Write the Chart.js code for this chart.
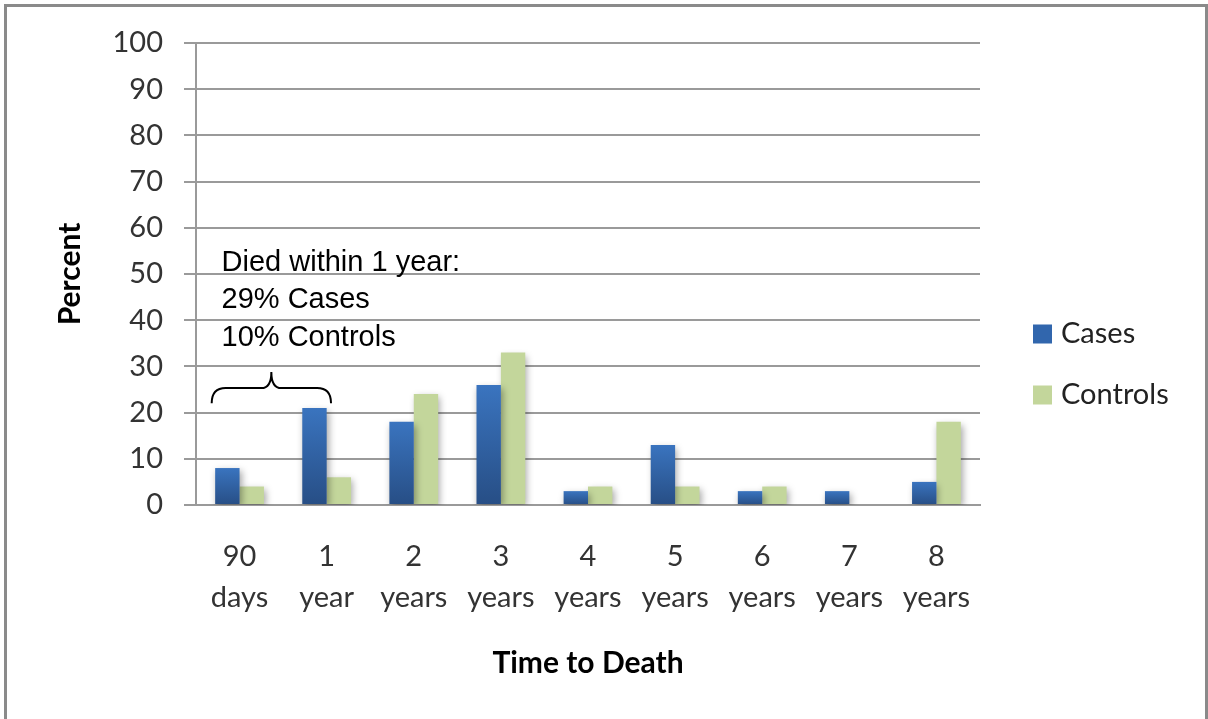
<!DOCTYPE html>
<html>
<head>
<meta charset="utf-8">
<script src="https://cdn.jsdelivr.net/npm/chart.js@4.4.1/dist/chart.umd.min.js"></script>
<style>
  html, body { margin: 0; padding: 0; background: #fff; overflow: hidden; }
  #wrap { position: relative; width: 1208px; height: 719px; }
  #c { position: absolute; left: 0; top: 0; }
  #frame { position: absolute; left: 4px; top: 4px; width: 1198px; height: 800px; border: 3px solid #8a8a8a; pointer-events: none; }
</style>
</head>
<body>
<div id="wrap">
  <canvas id="c" width="1208" height="719"></canvas>
  <div id="frame"></div>
</div>
<script>
// ---- data ----
const categories = [['90', 'days'], ['1', 'year'], ['2', 'years'], ['3', 'years'], ['4', 'years'], ['5', 'years'], ['6', 'years'], ['7', 'years'], ['8', 'years']];
const casesValues = [8, 21, 18, 26, 3, 13, 3, 3, 5];
const controlsValues = [4, 6, 24, 33, 4, 4, 4, 0, 18];
const seriesNames = ['Cases', 'Controls'];
const yMin = 0, yMax = 100, yStep = 10;
const xTitle = 'Time to Death';
const yTitle = 'Percent';
const annotationLines = ['Died within 1 year:', '29% Cases', '10% Controls'];

// ---- styles ----
const casesTop = '#3a74bf', casesBottom = '#274e85', casesFlat = '#3166ad';
const controlsColor = '#c3d69b';
const gridColor = '#9a9a9a';

function casesFill(ctx) {
  const chart = ctx.chart;
  if (ctx.type !== 'data' || !chart.chartArea) return casesFlat;
  const ys = chart.scales.y;
  const top = ys.getPixelForValue(ctx.raw);
  const base = ys.getPixelForValue(0);
  if (!isFinite(top) || Math.abs(base - top) < 1) return casesFlat;
  const g = chart.ctx.createLinearGradient(0, top, 0, base);
  g.addColorStop(0, casesTop);
  g.addColorStop(1, casesBottom);
  return g;
}

const shadowPlugin = {
  id: 'barShadow',
  beforeDatasetsDraw(chart) {
    const c = chart.ctx;
    c.save();
    c.shadowColor = 'rgba(0,0,0,0.35)';
    c.shadowBlur = 7;
    c.shadowOffsetX = 2;
    c.shadowOffsetY = 3;
  },
  afterDatasetsDraw(chart) { chart.ctx.restore(); }
};

const legendPlugin = {
  id: 'sideLegend',
  afterDraw(chart) {
    const c = chart.ctx;
    const area = chart.chartArea;
    const mid = chart.height / 2 + 5;
    const gap = 61;
    const n = chart.data.datasets.length;
    c.save();
    c.font = '29px Lato';
    c.textBaseline = 'middle';
    c.textAlign = 'left';
    chart.data.datasets.forEach((ds, i) => {
      const cy = mid + (i - (n - 1) / 2) * gap;
      const bx = area.right + 53;
      c.fillStyle = ds.legendColor;
      c.fillRect(bx, cy - 9.5, 19, 19);
      c.fillStyle = '#222';
      c.fillText(ds.label, bx + 28, cy);
    });
    c.restore();
  }
};

const notePlugin = {
  id: 'note',
  afterDatasetsDraw(chart) {
    const c = chart.ctx;
    const xs = chart.scales.x, ys = chart.scales.y;
    c.save();
    // text block
    c.font = '29px "Liberation Sans", Arial, sans-serif';
    c.fillStyle = '#000';
    c.textBaseline = 'middle';
    c.textAlign = 'left';
    const tx = xs.getPixelForValue(0) - 18;
    const lineVals = [52.6, 44.5, 36.4];
    annotationLines.forEach((t, i) => c.fillText(t, tx, ys.getPixelForValue(lineVals[i]) + 1));
    // curly brace spanning first two categories
    const x0 = xs.getPixelForValue(-0.32), x1 = xs.getPixelForValue(1.05);
    const xm = (x0 + x1) / 2;
    const yTip = ys.getPixelForValue(22), yLine = ys.getPixelForValue(25.3), yPeak = ys.getPixelForValue(28.8);
    const r = 14, rm = 10;
    c.strokeStyle = '#000';
    c.lineWidth = 2;
    c.beginPath();
    c.moveTo(x0, yTip);
    c.quadraticCurveTo(x0, yLine, x0 + r, yLine);
    c.lineTo(xm - rm, yLine);
    c.quadraticCurveTo(xm, yLine, xm, yPeak);
    c.quadraticCurveTo(xm, yLine, xm + rm, yLine);
    c.lineTo(x1 - r, yLine);
    c.quadraticCurveTo(x1, yLine, x1, yTip);
    c.stroke();
    c.restore();
  }
};

new Chart(document.getElementById('c'), {
  type: 'bar',
  data: {
    labels: categories,
    datasets: [
      { label: seriesNames[0], data: casesValues, backgroundColor: casesFill, legendColor: casesFlat,
        borderWidth: 0, categoryPercentage: 0.56, barPercentage: 1.0 },
      { label: seriesNames[1], data: controlsValues, backgroundColor: controlsColor, legendColor: controlsColor,
        borderWidth: 0, categoryPercentage: 0.56, barPercentage: 1.0 }
    ]
  },
  options: {
    responsive: false,
    animation: false,
    devicePixelRatio: 1,
    layout: { padding: { left: 20, top: 43, right: 228, bottom: 10 } },
    plugins: { legend: { display: false }, tooltip: { enabled: false } },
    scales: {
      x: {
        grid: { display: false, drawTicks: false },
        border: { display: true, color: gridColor, width: 2 },
        ticks: { color: '#333', font: { family: 'Lato', size: 29, lineHeight: 1.41 }, padding: 31, maxRotation: 0, autoSkip: false },
        title: { display: true, text: xTitle, color: '#000', font: { family: 'Lato', size: 30, weight: 'bold' }, padding: { top: 0, bottom: 28 } },
        afterFit(scale) { scale.height = 204; }
      },
      y: {
        min: yMin, max: yMax,
        grid: { color: gridColor, lineWidth: 2, drawTicks: true, tickLength: 12, tickColor: gridColor },
        border: { display: true, color: gridColor, width: 2 },
        ticks: { stepSize: yStep, color: '#333', font: { family: 'Lato', size: 29 }, padding: 21 },
        title: { display: true, text: yTitle, color: '#000', font: { family: 'Lato', size: 30, weight: 'bold' }, padding: { top: 32, bottom: 0 } },
        afterFit(scale) { scale.width = 176; }
      }
    }
  },
  plugins: [shadowPlugin, notePlugin, legendPlugin]
});
</script>
</body>
</html>
